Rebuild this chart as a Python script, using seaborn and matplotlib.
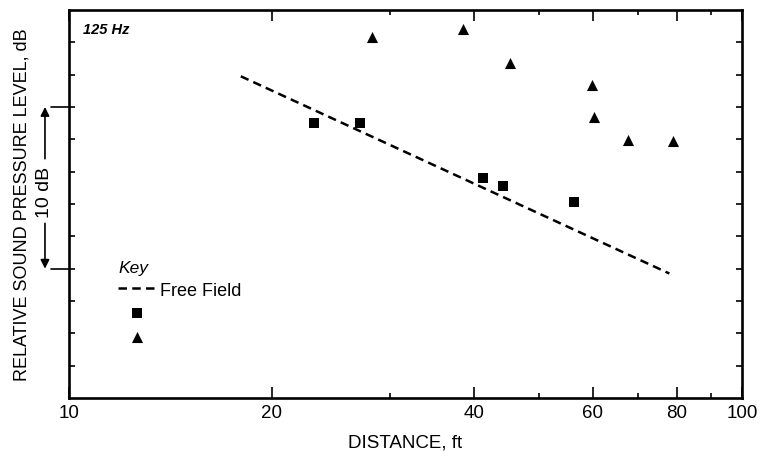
import numpy as np
import pandas as pd
import matplotlib
matplotlib.use('Agg')
import matplotlib.pyplot as plt
import matplotlib.transforms as mtransforms
from matplotlib.ticker import FixedLocator, NullFormatter
import seaborn as sns

# values (distance in ft, relative level in dB)
square_dist = [23.1, 27.1, 41.2, 44.2, 56.3]
square_level = [17.0, 17.0, 13.6, 13.1, 12.1]

tri_dist = [28.2, 38.5, 45.2, 59.9, 60.3, 67.7, 79.0]
tri_level = [22.3, 22.8, 20.7, 19.35, 17.4, 15.95, 15.9]

free_dist = [18.0, 78.0]
free_level = [19.9, 7.7]

x_ticks = [10, 20, 40, 60, 80, 100]
x_tick_labels = ['10', '20', '40', '60', '80', '100']
x_minor = [30, 50, 70, 90]
y_ticks = list(range(2, 24, 2))

# 10 dB scale bar on the left
bar_low, bar_high = 8, 18

sns.set_style('white')
plt.rcParams['font.family'] = ['Liberation Sans', 'DejaVu Sans']
plt.rcParams['text.color'] = 'black'
plt.rcParams['axes.labelcolor'] = 'black'
plt.rcParams['xtick.color'] = 'black'
plt.rcParams['ytick.color'] = 'black'

fig = plt.figure(figsize=(7.66, 4.6), dpi=100)
fig.patch.set_facecolor('white')
ax = fig.add_axes([69 / 766, 1 - 399 / 460, 673 / 766, 388 / 460])

free_df = pd.DataFrame({'dist': free_dist, 'level': free_level})
sq_df = pd.DataFrame({'dist': square_dist, 'level': square_level})
tri_df = pd.DataFrame({'dist': tri_dist, 'level': tri_level})

sns.lineplot(data=free_df, x='dist', y='level', ax=ax, color='black',
             linewidth=1.8, linestyle=(0, (3.4, 2.1)), label='Free Field')
sns.scatterplot(data=sq_df, x='dist', y='level', ax=ax, marker='s', s=44,
                color='black', linewidth=0, label=' ')
sns.scatterplot(data=tri_df, x='dist', y='level', ax=ax, marker='^', s=64,
                color='black', linewidth=0, label='  ')

ax.set_xscale('log')
ax.set_xlim(10, 100)
ax.set_ylim(0, 24)
ax.set_xticks(x_ticks)
ax.set_xticklabels(x_tick_labels, fontsize=13.5)
ax.xaxis.set_minor_locator(FixedLocator(x_minor))
ax.xaxis.set_minor_formatter(NullFormatter())
ax.set_yticks(y_ticks)
ax.set_yticklabels([])
ax.yaxis.set_minor_locator(FixedLocator([]))

ax.tick_params(axis='both', which='both', direction='in', top=True, right=True,
               bottom=True, left=True, width=1.2, color='black')
ax.tick_params(axis='x', which='major', length=8, pad=4.5)
ax.tick_params(axis='x', which='minor', length=3.5)
ax.tick_params(axis='y', which='major', length=4.5)

for sp in ax.spines.values():
    sp.set_visible(True)
    sp.set_linewidth(1.9)
    sp.set_color('black')

ax.set_xlabel('DISTANCE, ft', fontsize=13.5, va='center')
ax.xaxis.set_label_coords(0.5, (399 - 443) / 388)
ax.set_ylabel('RELATIVE SOUND PRESSURE LEVEL, dB', fontsize=13, va='center')
ax.yaxis.set_label_coords((22.5 - 69) / 673, 0.5)

ax.text(0.021, 0.969, '125 Hz', transform=ax.transAxes, fontsize=10.5,
        fontweight='bold', fontstyle='italic', ha='left', va='top')

# 10 dB scale bar
trans = mtransforms.blended_transform_factory(ax.transAxes, ax.transData)
for yv in [bar_low, bar_high]:
    ax.plot([-0.027, 0], [yv, yv], color='black', lw=1.2, transform=trans,
            clip_on=False)
bar_x = -0.0357
ax.annotate('', xy=(bar_x, bar_high), xytext=(bar_x, 14.8), xycoords=trans,
            textcoords=trans, annotation_clip=False,
            arrowprops=dict(arrowstyle='-|>', color='black', lw=1.2,
                            mutation_scale=13, shrinkA=0, shrinkB=0))
ax.annotate('', xy=(bar_x, bar_low), xytext=(bar_x, 10.8), xycoords=trans,
            textcoords=trans, annotation_clip=False,
            arrowprops=dict(arrowstyle='-|>', color='black', lw=1.2,
                            mutation_scale=13, shrinkA=0, shrinkB=0))
ax.text(bar_x, 12.8, '10 dB', transform=trans, rotation=90, fontsize=14,
        ha='center', va='center', clip_on=False)

handles, labels = ax.get_legend_handles_labels()
leg = ax.legend(handles, ['Free Field', ' ', ' '], title='Key',
                loc='upper left', bbox_to_anchor=((118 - 69) / 673, (399 - 261) / 388),
                frameon=False, borderpad=0, borderaxespad=0, handlelength=2.05,
                handletextpad=0.3, labelspacing=0.36, fontsize=13,
                scatterpoints=1, alignment='left',
                title_fontproperties={'style': 'italic', 'size': 12.5})

fig.savefig('out.png', dpi=100, facecolor='white')
plt.close(fig)
